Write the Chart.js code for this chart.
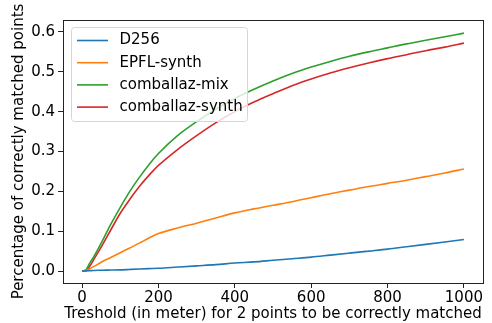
<!DOCTYPE html>
<html>
<head>
<meta charset="utf-8">
<script src="https://cdn.jsdelivr.net/npm/chart.js@4/dist/chart.umd.min.js"></script>
<style>
  body { margin: 0; background: #fff; }
</style>
</head>
<body>
<canvas id="grafico" width="492" height="323"></canvas>
<script>
// umbrales en metros (eje x)
const thresholds = [0, 10, 20, 30, 50, 75, 100, 125, 150, 175, 200, 250, 300, 350, 400, 450, 500, 550, 600, 650, 700, 750, 800, 850, 900, 950, 1000];

const d256 = [0, 0.0005, 0.001, 0.0015, 0.002, 0.0025, 0.003, 0.004, 0.005, 0.006, 0.007, 0.01, 0.013, 0.016, 0.02, 0.023, 0.027, 0.031, 0.035, 0.04, 0.045, 0.05, 0.055, 0.061, 0.067, 0.073, 0.079];
const epflSynth = [0, 0.002, 0.006, 0.011, 0.022, 0.034, 0.046, 0.058, 0.07, 0.083, 0.094, 0.108, 0.12, 0.133, 0.146, 0.156, 0.165, 0.174, 0.184, 0.194, 0.203, 0.212, 0.22, 0.228, 0.237, 0.246, 0.256];
const comballazMix = [0, 0.003, 0.02, 0.035, 0.07, 0.117, 0.16, 0.2, 0.235, 0.267, 0.295, 0.34, 0.375, 0.406, 0.433, 0.456, 0.477, 0.496, 0.512, 0.526, 0.539, 0.55, 0.56, 0.57, 0.579, 0.588, 0.597];
const comballazSynth = [0, 0.001, 0.012, 0.028, 0.06, 0.103, 0.145, 0.18, 0.212, 0.24, 0.265, 0.305, 0.34, 0.372, 0.4, 0.424, 0.445, 0.465, 0.482, 0.497, 0.51, 0.522, 0.533, 0.543, 0.553, 0.562, 0.572];

const seriesNames = ["D256", "EPFL-synth", "comballaz-mix", "comballaz-synth"];
const seriesColors = ["#1f77b4", "#ff7f0e", "#2ca02c", "#d62728"];
const xTicks = [0, 200, 400, 600, 800, 1000];
const yTicks = [0, 0.1, 0.2, 0.3, 0.4, 0.5, 0.6];

const fuente = { family: "'DejaVu Sans', sans-serif", size: 15 };

function puntos(valores) {
  return thresholds.map((t, i) => ({ x: t, y: valores[i] }));
}

const series = [d256, epflSynth, comballazMix, comballazSynth];
const datasets = series.map((valores, i) => ({
  label: seriesNames[i],
  data: puntos(valores),
  borderColor: seriesColors[i],
  backgroundColor: seriesColors[i],
  borderWidth: 1.6,
  pointRadius: 0,
  cubicInterpolationMode: "monotone",
  fill: false
}));

// marco del grafico y leyenda estilo matplotlib
const marcoYLeyenda = {
  id: "marcoYLeyenda",
  afterDatasetsDraw(chart) {
    const ctx = chart.ctx;
    const a = chart.chartArea;
    ctx.save();
    ctx.strokeStyle = "#222";
    ctx.lineWidth = 1;
    ctx.strokeRect(Math.round(a.left) + 0.5, Math.round(a.top) + 0.5, Math.round(a.right - a.left), Math.round(a.bottom - a.top));

    // leyenda
    const bx = a.left + 8, by = a.top + 7, bw = 176, bh = 94;
    ctx.beginPath();
    ctx.roundRect(bx + 0.5, by + 0.5, bw, bh, 3);
    ctx.fillStyle = "rgba(255,255,255,0.8)";
    ctx.fill();
    ctx.strokeStyle = "#d6d6d6";
    ctx.stroke();

    ctx.font = "15px 'DejaVu Sans', sans-serif";
    ctx.textBaseline = "middle";
    chart.data.datasets.forEach((ds, i) => {
      const y = by + 13.5 + i * 22.2;
      ctx.beginPath();
      ctx.moveTo(bx + 6, y);
      ctx.lineTo(bx + 37, y);
      ctx.strokeStyle = ds.borderColor;
      ctx.lineWidth = 1.6;
      ctx.stroke();
      ctx.fillStyle = "#000";
      ctx.fillText(ds.label, bx + 48.5, y);
    });
    ctx.restore();
  }
};

const canva = document.getElementById("grafico").getContext("2d");
new Chart(canva, {
  type: "line",
  data: { datasets: datasets },
  plugins: [marcoYLeyenda],
  options: {
    responsive: false,
    animation: false,
    devicePixelRatio: 1,
    layout: { padding: { top: 20, right: 9, left: 0, bottom: 0 } },
    plugins: {
      legend: { display: false },
      tooltip: { enabled: false }
    },
    scales: {
      x: {
        type: "linear",
        min: -50,
        max: 1050,
        afterBuildTicks: (scale) => { scale.ticks = xTicks.map(v => ({ value: v })); },
        afterFit: (scale) => { scale.height = 40; },
        grid: { display: true, drawOnChartArea: false, drawTicks: true, tickLength: 5, color: "#222" },
        border: { display: false },
        ticks: { color: "#000", font: fuente, padding: 1, maxRotation: 0, callback: (v) => String(v) },
        title: {
          display: true,
          text: "Treshold (in meter) for 2 points to be correctly matched",
          color: "#000",
          font: fuente,
          padding: { top: 0, bottom: 0 }
        }
      },
      y: {
        type: "linear",
        min: -0.03,
        max: 0.63,
        afterBuildTicks: (scale) => { scale.ticks = yTicks.map(v => ({ value: v })); },
        afterFit: (scale) => { scale.width = 63; },
        grid: { display: true, drawOnChartArea: false, drawTicks: true, tickLength: 5, color: "#222" },
        border: { display: false },
        ticks: { color: "#000", font: fuente, padding: 3, callback: (v) => v.toFixed(1) },
        title: {
          display: true,
          text: "Percentage of correctly matched points",
          color: "#000",
          font: fuente,
          padding: { top: 10, bottom: 0 }
        }
      }
    }
  }
});
</script>
</body>
</html>
